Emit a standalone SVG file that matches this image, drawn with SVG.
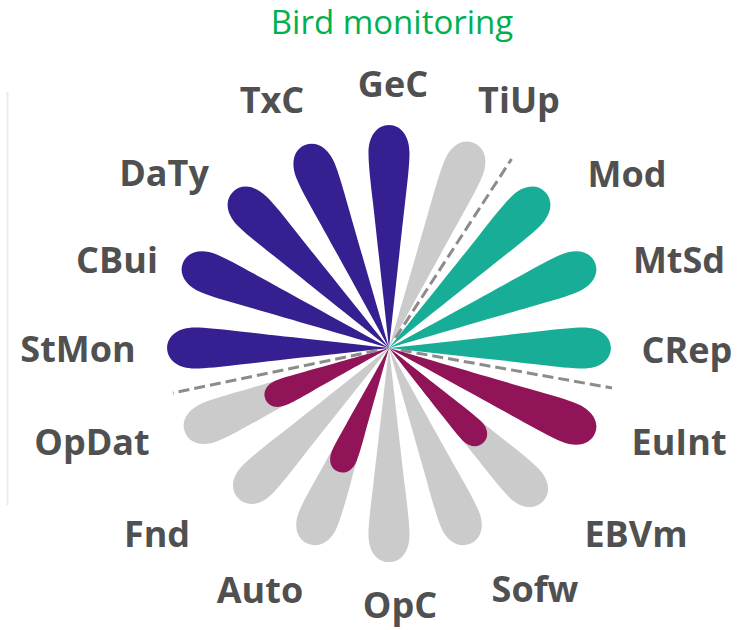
<svg xmlns="http://www.w3.org/2000/svg" xmlns:xlink="http://www.w3.org/1999/xlink" width="750" height="630" viewBox="0 0 750 630">
  <defs>
    <style>
      .title { font-family: "Open Sans", "Liberation Sans", sans-serif; font-size: 33px; fill: #00b050; text-anchor: middle; }
      .lbl { font-family: "Open Sans", "Liberation Sans", sans-serif; font-weight: bold; font-size: 36px; fill: #505050; text-anchor: middle; }
      .blue { fill: #361f91; }
      .teal { fill: #18ad96; }
      .crim { fill: #921458; }
      .grey { fill: #cbcbcb; }
      .divider { stroke: #8c8c8c; stroke-width: 3; stroke-dasharray: 11 5; fill: none; }
    </style>
    <!-- one petal pointing straight up from the hub, length 223 -->
    <path id="petal" d="M0 0 C5 -45 12 -110 16 -145 C19 -170 20.5 -185 20.5 -195 C20.5 -212 12 -223 0 -223 C-12 -223 -20.5 -212 -20.5 -195 C-20.5 -185 -19 -170 -16 -145 C-12 -110 -5 -45 0 0 Z"/>
  </defs>

  <rect width="750" height="630" fill="#ffffff"/>
  <line x1="7.5" y1="92" x2="7.5" y2="505" stroke="#ececec" stroke-width="2"/>

  <text class="title" x="392" y="34">Bird monitoring</text>

  <g id="GeC">
    <use href="#petal" class="blue" transform="translate(389 348) rotate(0)"/>
    <text class="lbl" x="393" y="97">GeC</text>
  </g>
  <g id="TiUp">
    <use href="#petal" class="grey" transform="translate(389 348) rotate(22.5) scale(1 0.995)"/>
    <text class="lbl" x="519" y="113">TiUp</text>
  </g>
  <g id="Mod">
    <use href="#petal" class="teal" transform="translate(389 348) rotate(45) scale(1 0.99)"/>
    <text class="lbl" x="627" y="187">Mod</text>
  </g>
  <g id="MtSd">
    <use href="#petal" class="teal" transform="translate(389 348) rotate(67.5)"/>
    <text class="lbl" x="679" y="273">MtSd</text>
  </g>
  <g id="CRep">
    <use href="#petal" class="teal" transform="translate(389 348) rotate(90) scale(1 0.995)"/>
    <text class="lbl" x="687" y="363">CRep</text>
  </g>
  <g id="EuInt">
    <use href="#petal" class="crim" transform="translate(389 348) rotate(112.5)"/>
    <text class="lbl" x="679" y="455">EuInt</text>
  </g>
  <g id="EBVm">
    <use href="#petal" class="grey" transform="translate(389 348) rotate(135) scale(1 0.975)"/>
    <use href="#petal" class="crim" transform="translate(389 348) rotate(135) scale(0.65 0.6)"/>
    <text class="lbl" x="636" y="547">EBVm</text>
  </g>
  <g id="Sofw">
    <use href="#petal" class="grey" transform="translate(389 348) rotate(157.5) scale(1 0.95)"/>
    <text class="lbl" x="535" y="602">Sofw</text>
  </g>
  <g id="OpC">
    <use href="#petal" class="grey" transform="translate(389 348) rotate(180) scale(1 0.96)"/>
    <text class="lbl" x="400" y="618">OpC</text>
  </g>
  <g id="Auto">
    <use href="#petal" class="grey" transform="translate(389 348) rotate(202.5) scale(1 0.95)"/>
    <use href="#petal" class="crim" transform="translate(389 348) rotate(202.5) scale(0.65 0.6)"/>
    <text class="lbl" x="260" y="603">Auto</text>
  </g>
  <g id="Fnd">
    <use href="#petal" class="grey" transform="translate(389 348) rotate(225) scale(1 0.955)"/>
    <text class="lbl" x="157" y="547">Fnd</text>
  </g>
  <g id="OpDat">
    <use href="#petal" class="grey" transform="translate(389 348) rotate(247.5) scale(1 0.99)"/>
    <use href="#petal" class="crim" transform="translate(389 348) rotate(247.5) scale(0.65 0.6)"/>
    <text class="lbl" x="92" y="455">OpDat</text>
  </g>
  <g id="StMon">
    <use href="#petal" class="blue" transform="translate(389 348) rotate(270) scale(1 0.995)"/>
    <text class="lbl" x="78" y="362">StMon</text>
  </g>
  <g id="CBui">
    <use href="#petal" class="blue" transform="translate(389 348) rotate(292.5)"/>
    <text class="lbl" x="117" y="273">CBui</text>
  </g>
  <g id="DaTy">
    <use href="#petal" class="blue" transform="translate(389 348) rotate(315) scale(1 0.99)"/>
    <text class="lbl" x="164" y="186">DaTy</text>
  </g>
  <g id="TxC">
    <use href="#petal" class="blue" transform="translate(389 348) rotate(337.5) scale(1 0.985)"/>
    <text class="lbl" x="272" y="113">TxC</text>
  </g>

  <!-- dashed dividers between the petal groups -->
  <g id="dividers">
    <line class="divider" x1="395.5" y1="338" x2="511.5" y2="159"/>
    <line class="divider" x1="400.8" y1="350.1" x2="612" y2="388"/>
    <line class="divider" x1="377.3" y1="350.4" x2="173" y2="393"/>
  </g>
</svg>
